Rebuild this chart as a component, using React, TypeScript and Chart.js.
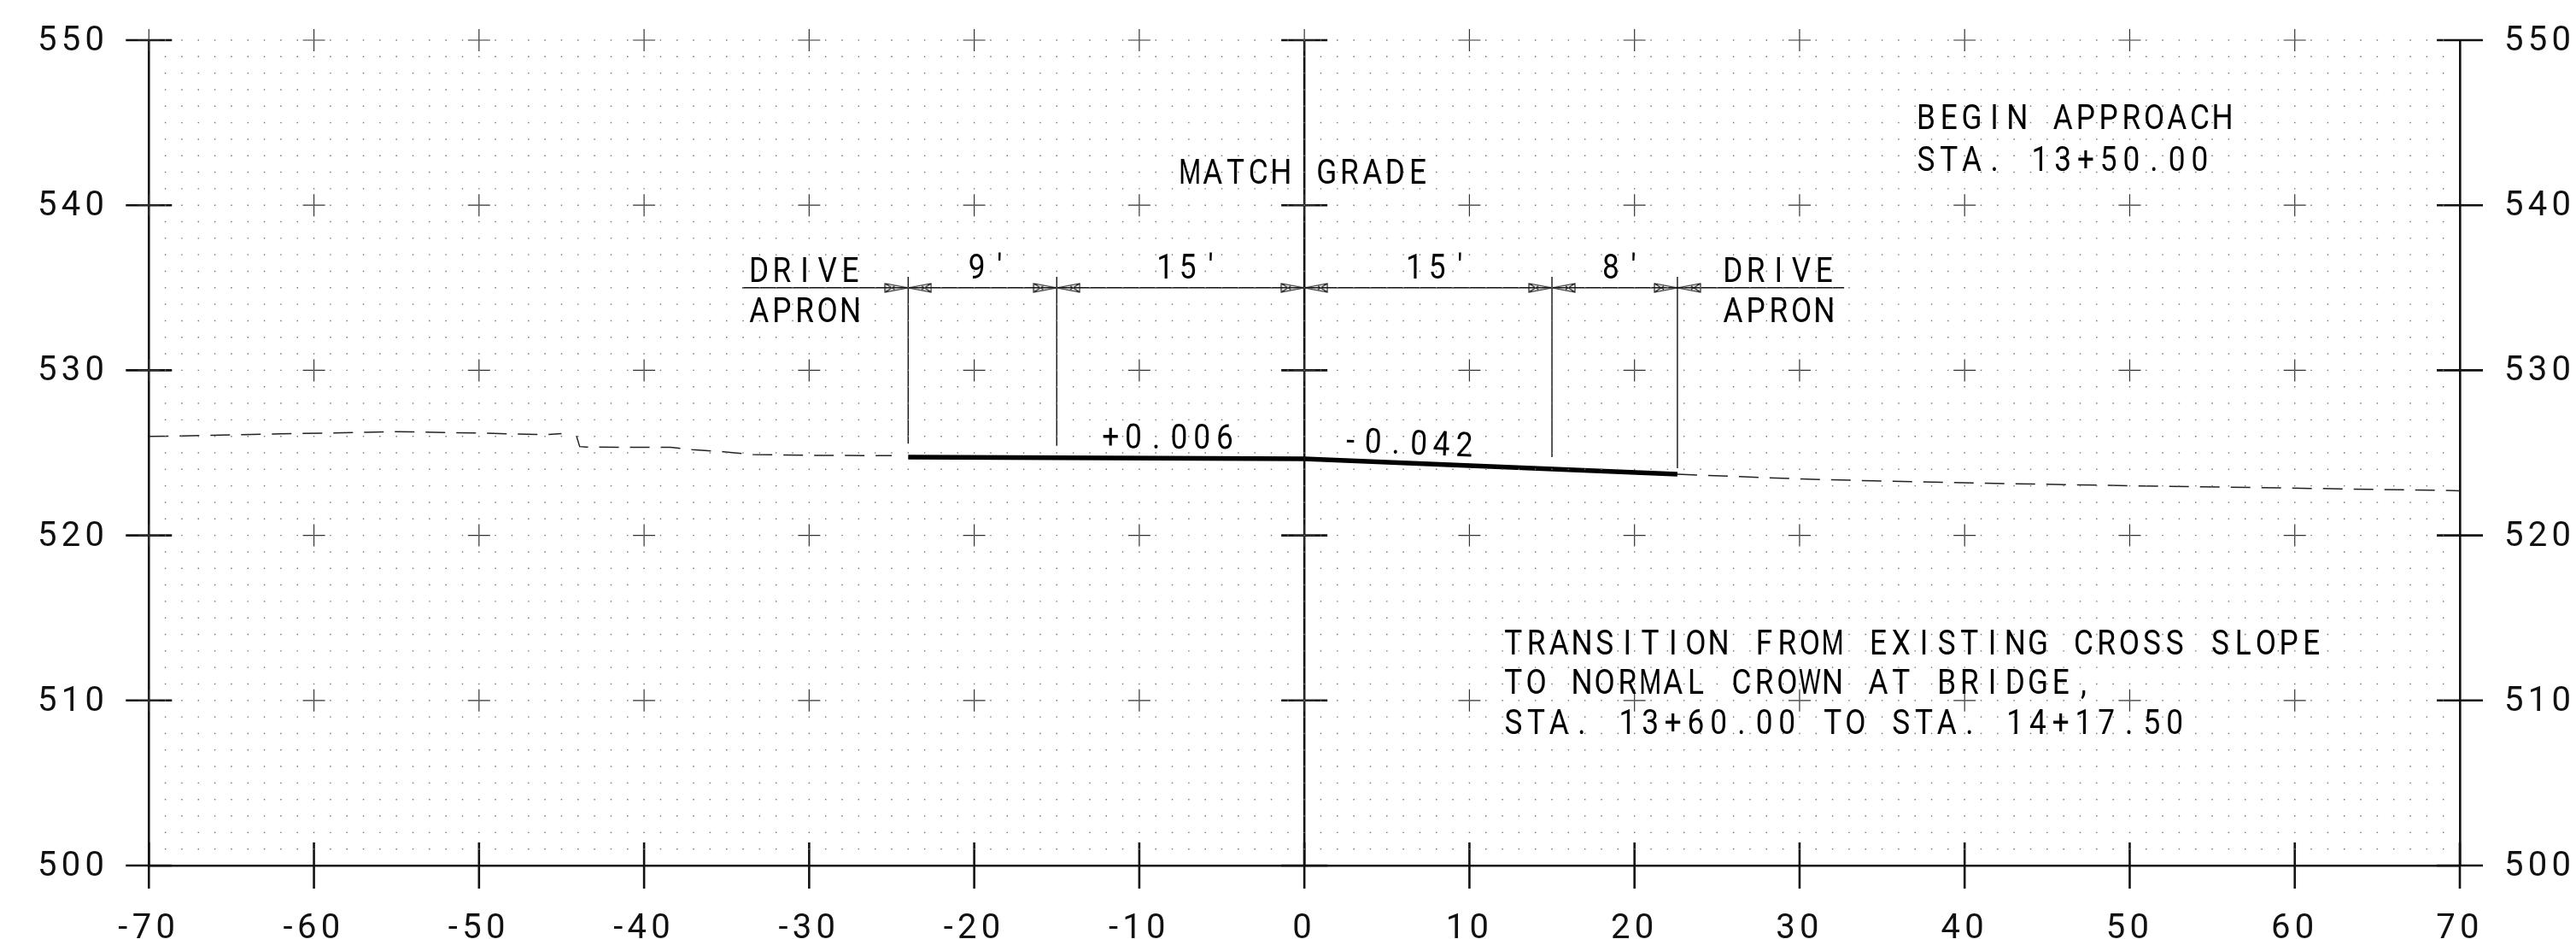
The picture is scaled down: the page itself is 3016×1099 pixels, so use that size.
import React, { useEffect, useRef } from "react";
import { Chart, registerables } from "chart.js";

Chart.register(...registerables);

const xTicks = [-70, -60, -50, -40, -30, -20, -10, 0, 10, 20, 30, 40, 50, 60, 70];
const yTicks = [500, 510, 520, 530, 540, 550];
const crossXs = [-70, -60, -50, -40, -30, -20, -10, 0, 10, 20, 30, 40, 50, 60];
const crossYs = [510, 520, 530, 540, 550];
const frameXs = [-70, 0, 70];

const dashedLeftX = [-70, -68, -62, -55, -50, -46, -45];
const dashedLeftY = [526.0, 526.02, 526.15, 526.28, 526.2, 526.1, 526.17];
const dashedMidX = [-44.1, -43.9, -43.5, -38.4, -37.1, -35.2, -33.4, -29.7, -25];
const dashedMidY = [526.03, 525.38, 525.35, 525.33, 525.2, 525.07, 524.9, 524.85, 524.83];
const dashedRightX = [22.6, 29.7, 34.5, 42.9, 50.3, 56, 69.3, 70];
const dashedRightY = [523.7, 523.43, 523.3, 523.13, 523.0, 522.92, 522.72, 522.7];

const profileX = [-24, 0, 22.6];
const profileY = [524.74, 524.64, 523.7];

const dimY = 535;
const dimX = [-34.06, 32.7];
const extX = [-24, -15, 15, 22.6];
const extTop = [535.66, 535.66, 535.66, 535.66];
const extBottom = [525.55, 525.43, 524.74, 524.07];
const arrowAt = [-24, -15, 0, 15, 22.6];

const notes = [
  { text: "BEGIN APPROACH", x: 37.1, y: 544.6, angle: 0 },
  { text: "STA. 13+50.00", x: 37.1, y: 542.1, angle: 0 },
  { text: "MATCH GRADE", x: -7.5, y: 541.3, angle: 0 },
  { text: "DRIVE", x: -33.6, y: 535.36, angle: 0 },
  { text: "APRON", x: -33.6, y: 532.93, angle: 0 },
  { text: "9′", x: -20.4, y: 535.55, angle: 0 },
  { text: "15′", x: -9.0, y: 535.55, angle: 0 },
  { text: "15′", x: 6.1, y: 535.55, angle: 0 },
  { text: "8′", x: 18.0, y: 535.55, angle: 0 },
  { text: "DRIVE", x: 25.4, y: 535.36, angle: 0 },
  { text: "APRON", x: 25.4, y: 532.93, angle: 0 },
  { text: "+0.006", x: -12.3, y: 525.3, angle: 0.3 },
  { text: "-0.042", x: 2.2, y: 525.1, angle: 2.4 },
  { text: "TRANSITION FROM EXISTING CROSS SLOPE", x: 12.1, y: 512.8, angle: 0 },
  { text: "TO NORMAL CROWN AT BRIDGE,", x: 12.1, y: 510.4, angle: 0 },
  { text: "STA. 13+60.00 TO STA. 14+17.50", x: 12.1, y: 507.96, angle: 0 },
];

const FONT = "Roboto";
const INK = "#111";
const range = (a: number, b: number) => Array.from({ length: b - a + 1 }, (_, i) => a + i);
const lattice = (xs: number[], ys: number[]) =>
  ys.flatMap((y) => xs.map((x) => ({ x, y })));
const pairs = (xs: number[], ys: number[]) => xs.map((x, i) => ({ x, y: ys[i] }));

const makeArrow = (dir: number) => {
  const c = document.createElement("canvas");
  c.width = 28;
  c.height = 12;
  const g = c.getContext("2d")!;
  g.translate(dir > 0 ? 0 : 28, 0);
  g.scale(dir, 1);
  g.strokeStyle = "#111";
  g.lineWidth = 1.1;
  g.beginPath();
  g.moveTo(1, 1);
  g.lineTo(28, 6);
  g.lineTo(1, 11);
  g.closePath();
  g.moveTo(1, 1);
  g.lineTo(12, 8);
  g.moveTo(1, 11);
  g.lineTo(12, 4);
  g.stroke();
  return c;
};

const textPlugin = {
  id: "cadText",
  beforeDraw(chart: any) {
    chart.ctx.letterSpacing = "5.3px";
  },
  afterDatasetsDraw(chart: any) {
    const { ctx, scales } = chart;
    ctx.save();
    ctx.letterSpacing = "0px";
    ctx.fillStyle = "#000";
    ctx.font = `400 40px ${FONT}`;
    ctx.textAlign = "center";
    ctx.textBaseline = "alphabetic";
    const pitch = 26.7;
    for (const n of notes) {
      ctx.save();
      ctx.translate(scales.x.getPixelForValue(n.x), scales.y.getPixelForValue(n.y));
      ctx.rotate((n.angle * Math.PI) / 180);
      [...n.text].forEach((ch, i) => {
        ctx.save();
        ctx.translate(i * pitch + pitch / 2 - 2.5, 0);
        ctx.scale("MW".includes(ch) ? 0.74 : 0.88, 1);
        ctx.fillText(ch, 0, 0);
        ctx.restore();
      });
      ctx.restore();
    }
    ctx.restore();
    ctx.letterSpacing = "5.3px";
  },
};

export default function App() {
  const ref = useRef<HTMLCanvasElement>(null);
  useEffect(() => {
    const line = (data: any[], width: number, color: string, extra: any = {}) => ({
      type: "scatter",
      data,
      showLine: true,
      tension: 0,
      pointRadius: 0,
      borderWidth: width,
      borderColor: color,
      clip: false,
      ...extra,
    });
    const marks = (data: any[], style: any, radius: number, width: number, color: string, extra: any = {}) => ({
      type: "scatter",
      data,
      showLine: false,
      pointStyle: style,
      pointRadius: radius,
      pointBorderWidth: width,
      pointBorderColor: color,
      pointBackgroundColor: color,
      clip: false,
      ...extra,
    });
    const dash = { borderDash: [23, 13] };
    const arrowOffset = 0.72;
    const noPad = (s: any) => {
      s.paddingTop = 0;
      s.paddingBottom = 0;
      s.paddingLeft = 0;
      s.paddingRight = 0;
    };
    const chart = new Chart(ref.current!, {
      type: "scatter",
      data: {
        datasets: [
          marks(lattice(range(-69, 69), range(501, 550)), "rect", 1, 0, "#707070"),
          marks(lattice(crossXs, crossYs), "cross", 13, 1.2, "#333"),
          marks(lattice(frameXs, yTicks), "line", 27, 2.6, INK),
          marks(xTicks.map((x) => ({ x, y: 500 })), "line", 27, 2.6, INK, { pointRotation: 90 }),
          line([{ x: 0, y: 500 }, { x: 0, y: 550 }], 2.6, INK),
          line(pairs(dashedLeftX, dashedLeftY), 1.5, "#222", dash),
          line(pairs(dashedMidX, dashedMidY), 1.5, "#222", dash),
          line(pairs(dashedRightX, dashedRightY), 1.5, "#222", dash),
          line(pairs(profileX, profileY), 5.5, "#000"),
          line(dimX.map((x) => ({ x, y: dimY })), 1.4, "#111"),
          ...extX.map((x, i) => line([{ x, y: extTop[i] }, { x, y: extBottom[i] }], 1.4, "#111")),
          marks(arrowAt.map((x) => ({ x: x - arrowOffset, y: dimY })), makeArrow(1), 14, 0, "#111"),
          marks(arrowAt.map((x) => ({ x: x + arrowOffset, y: dimY })), makeArrow(-1), 14, 0, "#111"),
        ] as any,
      },
      options: {
        animation: false,
        responsive: false,
        events: [],
        layout: { padding: { top: 47, left: 0, right: 0, bottom: 0 } },
        plugins: { legend: { display: false }, tooltip: { enabled: false }, title: { display: false } },
        scales: {
          x: {
            type: "linear",
            min: -70,
            max: 70,
            afterBuildTicks: (s: any) => { s.ticks = xTicks.map((value) => ({ value })); },
            afterFit: (s: any) => { s.height = 86; noPad(s); },
            border: { display: true, width: 2.6, color: INK },
            grid: { display: false, drawTicks: false },
            ticks: {
              autoSkip: false,
              maxRotation: 0,
              minRotation: 0,
              padding: 51,
              color: INK,
              font: { family: FONT, size: 40, weight: "400" },
              callback: (v: any) => String(v),
            },
          },
          y: {
            type: "linear",
            position: "left",
            min: 500,
            max: 550,
            afterBuildTicks: (s: any) => { s.ticks = yTicks.map((value) => ({ value })); },
            afterFit: (s: any) => { s.width = 174.3; noPad(s); },
            border: { display: true, width: 2.6, color: INK },
            grid: { display: false, drawTicks: false },
            ticks: {
              padding: 47,
              labelOffset: 2,
              color: INK,
              font: { family: FONT, size: 40, weight: "400" },
              callback: (v: any) => String(v),
            },
          },
          y2: {
            type: "linear",
            position: "right",
            min: 500,
            max: 550,
            afterBuildTicks: (s: any) => { s.ticks = yTicks.map((value) => ({ value })); },
            afterFit: (s: any) => { s.width = 136; noPad(s); },
            border: { display: true, width: 2.6, color: INK },
            grid: { display: false, drawTicks: false },
            ticks: {
              padding: 52,
              labelOffset: 2,
              color: INK,
              font: { family: FONT, size: 40, weight: "400" },
              callback: (v: any) => String(v),
            },
          },
        },
      } as any,
      plugins: [textPlugin],
    } as any);
    return () => chart.destroy();
  }, []);
  return (
    <div style={{ position: "absolute", left: 0, top: 0, width: 3016, height: 1099, background: "#fff" }}>
      <canvas ref={ref} width={3016} height={1099} style={{ display: "block" }} />
    </div>
  );
}
